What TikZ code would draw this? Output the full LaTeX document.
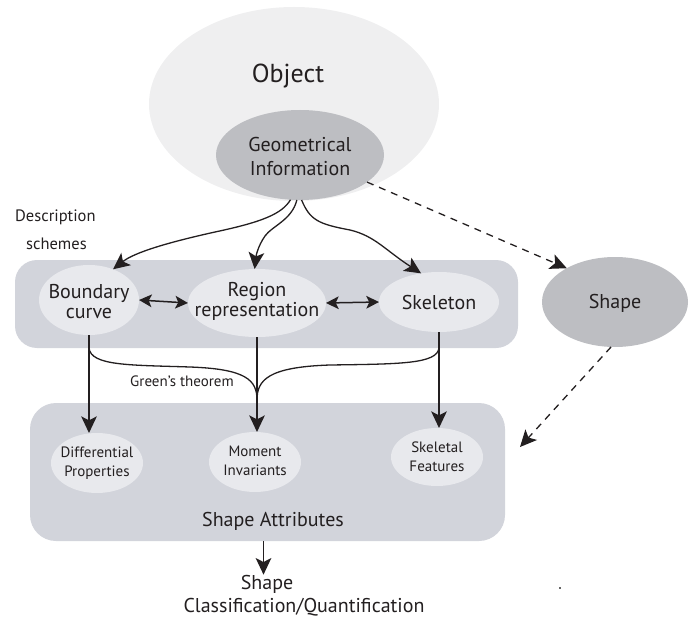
\documentclass[tikz,border=0pt]{standalone}
\usepackage{fontspec}
\setmainfont{PT Sans}
\usetikzlibrary{arrows.meta,shapes.geometric,calc}
\definecolor{txt}{HTML}{231F20}
\definecolor{objc}{HTML}{EFEFF0}
\definecolor{darkel}{HTML}{BDBEC2}
\definecolor{panel}{HTML}{D2D4DB}
\definecolor{lightel}{HTML}{E8E9ED}
\tikzset{
  ell/.style={ellipse, inner sep=0pt, outer sep=0pt},
  darkell/.style={ell, fill=darkel},
  lightell/.style={ell, fill=lightel},
  panelbox/.style={rectangle, rounded corners=22pt, fill=panel, inner sep=0pt, outer sep=0pt},
  lbl/.style={text=txt, inner sep=0pt, align=center},
  bigtip/.tip={Stealth[length=16pt 0.5,width=15pt 0.5,inset=4pt]},
  smalltip/.tip={Stealth[length=12pt 0.5,width=12pt 0.5,inset=3pt]},
  arr/.style={line width=1.3pt, draw=txt, arrows={-bigtip}},
  darr/.style={line width=1.5pt, draw=txt, arrows={smalltip-smalltip}},
  dasharr/.style={line width=1.3pt, draw=txt, dash pattern=on 7pt off 6pt, arrows={-bigtip}},
  curveln/.style={line width=1.3pt, draw=txt},
  big/.style={font=\fontsize{20}{20}\selectfont},
  small/.style={font=\fontsize{15}{19}\selectfont},
}
\begin{document}
\begin{tikzpicture}[x=1pt,y=-1pt]
\useasboundingbox (0,0) rectangle (700,617);
% Object
\node[ell, fill=objc, minimum width=290pt, minimum height=194pt] (obj) at (294,104) {};
\node[lbl, font=\fontsize{26}{28}\selectfont] (objt) at (288,76) {Object};
\node[darkell, minimum width=168pt, minimum height=90pt] (geo) at (300,155) {};
\node[lbl, font=\fontsize{20}{24}\selectfont] (geot) at (300,157) {Geometrical\\Information};
% panels
\path[panelbox] (15,260) rectangle (518,348);
\node[panelbox, minimum width=475pt, minimum height=138pt, rounded corners=26pt] (attr) at (267.5,472) {};
\node[lbl, font=\fontsize{16.5}{18}\selectfont, anchor=west] (desc) at (15,217) {Description};
\node[lbl, font=\fontsize{16.5}{18}\selectfont, anchor=west] (sch) at (26,244) {schemes};
% description nodes
\node[lightell, minimum width=100pt, minimum height=70pt] (bc) at (89,300) {};
\node[lbl, big] (bct) at (89,302) {Boundary\\curve};
\node[lightell, minimum width=138pt, minimum height=68pt] (reg) at (257,303) {};
\node[lbl, big] (regt) at (257,301) {Region\\representation};
\node[lightell, minimum width=120pt, minimum height=60pt] (skel) at (439,302) {};
\node[lbl, big] (skelt) at (439,302) {Skeleton};
\node[darkell, minimum width=146pt, minimum height=90pt] (shape) at (615,302) {};
\node[lbl, big] (shapet) at (615,303) {Shape};
% attribute nodes
\node[lightell, minimum width=92pt, minimum height=60pt] (diff) at (97,463) {};
\node[lbl, small] (difft) at (97,463) {Differential\\Properties};
\node[lightell, minimum width=92pt, minimum height=60pt] (mom) at (255,462) {};
\node[lbl, small] (momt) at (255,461) {Moment\\Invariants};
\node[lightell, minimum width=92pt, minimum height=58pt] (skf) at (437,457) {};
\node[lbl, small] (skft) at (437,457) {Skeletal\\Features};
\node[lbl, big] (sat) at (273,521) {Shape Attributes};
% bottom text
\node[lbl, big] (shp2) at (267,584) {Shape};
\node[lbl, big] (cls) at (304,607) {Classification/Quantification};
\fill[black!60] (559,587) rectangle (561,588.5);
% arrows from geometrical information
\draw[arr] (geo.258) .. controls (282,214) and (262,222) .. (215,232) .. controls (170,242) and (135,252) .. (bc.52);
\draw[arr] (geo.266) .. controls (292,220) and (272,226) .. (265,236) .. controls (258,246) and (256,256) .. (reg.94);
\draw[arr] (geo.272) .. controls (310,220) and (318,224) .. (350,230) .. controls (375,236) and (385,250) .. (skel.122);
\draw[dasharr] (geo.-22) -- (shape.145);
\coordinate (attrtip) at (520,447);
\draw[dasharr] (shape.265) -- (attrtip);
% double arrows
\draw[darr] (bc.east) -- (reg.west);
\draw[darr] (reg.east) -- (skel.west);
% vertical arrows
\draw[arr] (bc.south) -- (bc.south |- diff.north);
\draw[arr] (reg.south) -- (reg.south |- mom.north);
\draw[arr] (skel.south) -- (skel.south |- skf.north);
\draw[arr] ([xshift=-4pt]attr.south) -- ([xshift=-4pt]attr.south |- shp2.north);
% Green's theorem curves
\coordinate (cusp) at (reg.south |- 0,400);
\draw[curveln] (bc.south |- 0,348) .. controls (91,366) and (130,365) .. (190,367) .. controls (246,369) and (257,380) .. (cusp);
\draw[curveln] (skel.south |- 0,348) .. controls (437,364) and (400,364) .. (330,365) .. controls (268,367) and (257,380) .. (cusp);
\node[lbl, font=\fontsize{15}{17}\selectfont] (green) at (182,381) {Green's theorem};
\end{tikzpicture}
\end{document}
